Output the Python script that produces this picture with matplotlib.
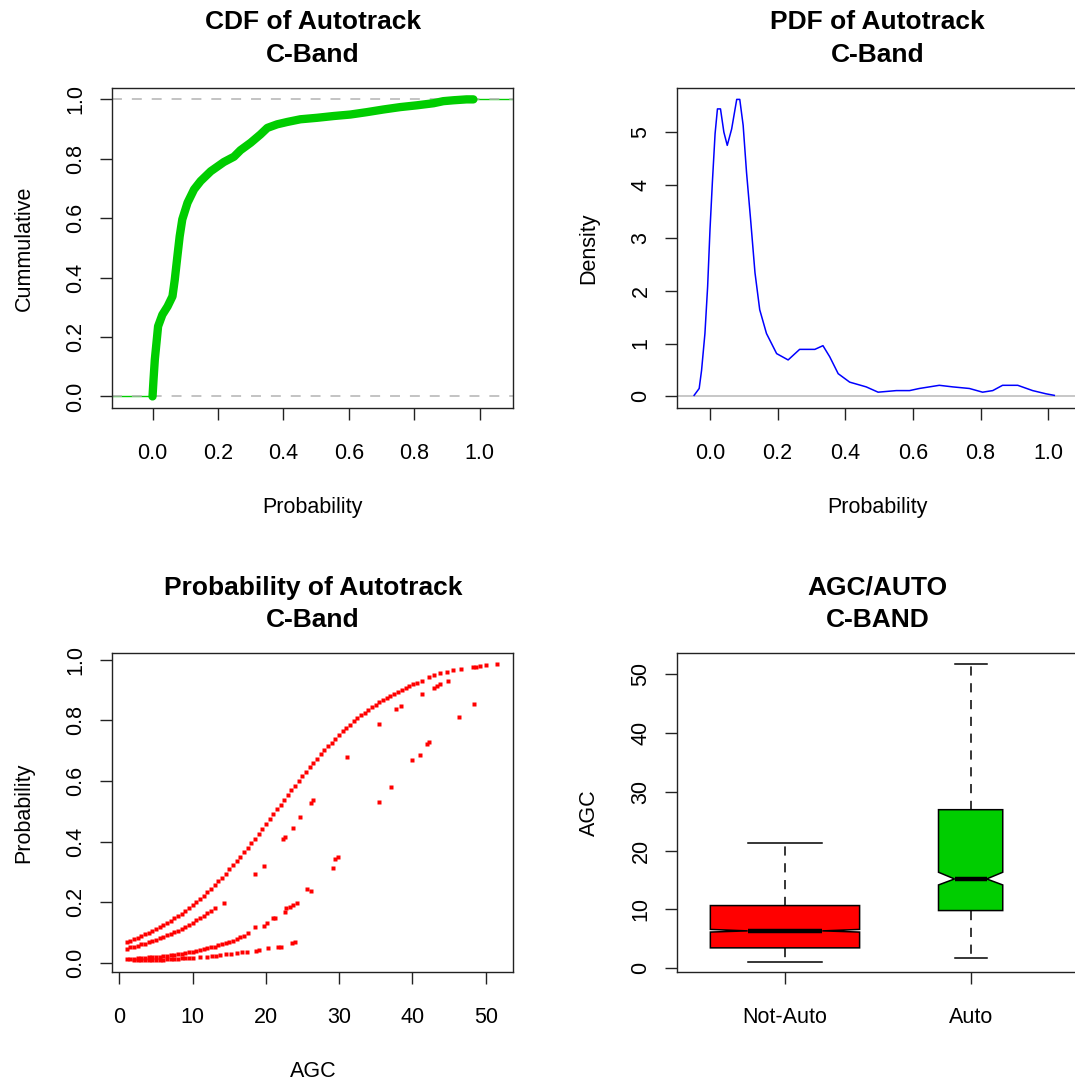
import matplotlib
matplotlib.use("Agg")
import matplotlib.pyplot as plt
from matplotlib.transforms import offset_copy

plt.rcParams['font.family'] = ['Liberation Sans', 'DejaVu Sans']

# ---- data ----
# empirical CDF of autotrack probability
cdf_x = [0.0, 0.003, 0.007, 0.013, 0.017, 0.030, 0.046, 0.061, 0.068, 0.076, 0.083,
         0.091, 0.107, 0.127, 0.147, 0.178, 0.218, 0.249, 0.269, 0.300, 0.330, 0.351,
         0.381, 0.412, 0.452, 0.503, 0.554, 0.605, 0.655, 0.706, 0.757, 0.808, 0.859,
         0.889, 0.920, 0.960, 0.981]
cdf_y = [0.0, 0.056, 0.124, 0.191, 0.236, 0.275, 0.303, 0.337, 0.393, 0.472, 0.539,
         0.596, 0.652, 0.697, 0.725, 0.758, 0.789, 0.807, 0.829, 0.854, 0.882, 0.904,
         0.916, 0.924, 0.933, 0.938, 0.944, 0.949, 0.957, 0.966, 0.974, 0.980, 0.987,
         0.994, 0.997, 1.0, 1.0]

# density estimate
pdf_x = [-0.047, -0.032, -0.025, -0.015, -0.007, 0.0, 0.007, 0.015, 0.022, 0.031,
         0.041, 0.051, 0.064, 0.079, 0.088, 0.098, 0.108, 0.120, 0.133, 0.147,
         0.167, 0.197, 0.231, 0.265, 0.310, 0.334, 0.354, 0.379, 0.413, 0.462,
         0.497, 0.551, 0.590, 0.619, 0.678, 0.718, 0.767, 0.806, 0.836, 0.865,
         0.910, 0.954, 0.993, 1.018]
pdf_y = [0.02, 0.15, 0.49, 1.19, 2.08, 3.16, 4.05, 4.97, 5.44, 5.44,
         5.0, 4.75, 5.06, 5.62, 5.62, 5.13, 4.24, 3.35, 2.34, 1.64,
         1.19, 0.81, 0.69, 0.89, 0.89, 0.96, 0.75, 0.43, 0.27, 0.18,
         0.08, 0.11, 0.11, 0.15, 0.21, 0.18, 0.15, 0.08, 0.11, 0.21,
         0.21, 0.11, 0.05, 0.02]

# fitted probability vs AGC (four bands of points)
agc_a = [1.0, 1.5, 2.0, 2.5, 3.0, 3.5, 4.0, 4.5, 5.0, 5.5,
         6.0, 6.5, 7.0, 7.5, 8.0, 8.5, 9.0, 9.5, 10.0, 10.5,
         11.0, 11.5, 12.0, 12.5, 13.0, 13.5, 14.0, 14.5, 15.0, 15.5,
         16.0, 16.5, 17.0, 17.5, 18.0, 18.5, 19.0, 19.5, 20.0, 20.5,
         21.0, 21.5, 22.0, 22.5, 23.0, 23.5, 24.0, 24.5, 25.0, 25.5,
         26.0, 26.5, 27.0, 27.5, 28.0, 28.5, 29.0, 29.5, 30.0, 30.5,
         31.0, 31.5, 32.0, 32.5, 33.0, 33.5, 34.0, 34.5, 35.0, 35.5,
         36.0, 36.5, 37.0, 37.5, 38.0,
         38.6, 39.1, 39.6, 40.1, 40.6, 41.3, 42.2, 43.0, 43.8, 44.7,
         45.6, 46.7, 48.3, 48.7, 49.2, 50.1, 51.5]
prob_a = [0.069, 0.073, 0.078, 0.082, 0.087, 0.093, 0.098, 0.104, 0.110, 0.117,
          0.123, 0.130, 0.138, 0.146, 0.154, 0.162, 0.171, 0.180, 0.190, 0.200,
          0.210, 0.221, 0.233, 0.244, 0.256, 0.269, 0.281, 0.294, 0.308, 0.322,
          0.336, 0.350, 0.365, 0.380, 0.395, 0.410, 0.426, 0.442, 0.458, 0.474,
          0.490, 0.506, 0.521, 0.537, 0.553, 0.569, 0.585, 0.600, 0.615, 0.630,
          0.645, 0.660, 0.674, 0.688, 0.701, 0.715, 0.727, 0.740, 0.752, 0.764,
          0.775, 0.786, 0.797, 0.807, 0.817, 0.826, 0.835, 0.844, 0.852, 0.860,
          0.867, 0.875, 0.881, 0.888, 0.894,
          0.902, 0.908, 0.913, 0.920, 0.925, 0.932, 0.945, 0.950, 0.956, 0.961,
          0.966, 0.969, 0.978, 0.978, 0.979, 0.982, 0.987]

agc_b = [1.0, 1.5, 2.0, 2.5, 3.0, 3.5, 4.0, 4.5, 5.0, 5.5,
         6.0, 6.5, 7.0, 7.5, 8.0, 8.5, 9.0, 9.5, 10.0, 10.5,
         11.0, 11.5, 12.0, 12.5, 13.0,
         14.3, 18.5, 19.7, 22.4, 22.6, 23.7, 24.7, 26.1, 26.5, 31.1,
         35.5, 37.8, 38.4, 41.3, 42.9, 43.3, 43.8, 44.9]
prob_b = [0.045, 0.050, 0.053, 0.056, 0.060, 0.063, 0.067, 0.071, 0.076, 0.080,
          0.085, 0.090, 0.095, 0.100, 0.106, 0.112, 0.119, 0.125, 0.132, 0.140,
          0.147, 0.155, 0.164, 0.172, 0.182,
          0.196, 0.292, 0.319, 0.409, 0.415, 0.444, 0.480, 0.526, 0.536, 0.680,
          0.787, 0.837, 0.848, 0.888, 0.909, 0.915, 0.921, 0.932]

agc_c = [1.0, 1.5, 2.0, 2.5, 3.0, 3.5, 4.0, 4.5, 5.0, 5.5,
         6.0, 6.5, 7.0, 7.5, 8.0, 8.5, 9.0, 9.5, 10.0, 10.5,
         11.0, 11.5, 12.0, 12.5, 13.0, 13.5, 14.0, 14.5, 15.0, 15.5,
         16.0, 16.5, 17.0,
         17.6, 18.5, 19.7, 20.1, 21.0, 21.3, 22.6, 22.8, 23.3, 23.7,
         24.2, 25.6, 26.1, 29.1, 29.5, 29.8, 35.5, 37.1, 40.0, 41.0,
         42.0, 42.2, 46.3, 48.4]
prob_c = [0.011, 0.012, 0.013, 0.014, 0.015, 0.016, 0.017, 0.018, 0.019, 0.020,
          0.022, 0.023, 0.025, 0.026, 0.028, 0.030, 0.032, 0.034, 0.036, 0.039,
          0.041, 0.044, 0.047, 0.050, 0.053, 0.057, 0.061, 0.065, 0.069, 0.073,
          0.078, 0.083, 0.088,
          0.097, 0.117, 0.122, 0.132, 0.146, 0.149, 0.168, 0.180, 0.185, 0.190,
          0.196, 0.242, 0.237, 0.314, 0.342, 0.348, 0.530, 0.581, 0.670, 0.686,
          0.722, 0.728, 0.810, 0.855]

agc_d = [2.0, 2.5, 3.0, 3.5, 4.0, 4.5, 5.0, 5.5, 6.0, 6.5,
         7.0, 7.5, 8.0, 8.5, 9.0, 9.5, 10.0,
         11.0, 12.0, 12.6, 13.2, 13.7, 14.5, 15.3, 16.0, 16.8, 17.4,
         18.7, 19.0, 20.3, 21.6, 22.0, 23.6, 24.0]
prob_d = [0.007, 0.007, 0.008, 0.008, 0.008, 0.009, 0.009, 0.010, 0.010, 0.011,
          0.012, 0.012, 0.013, 0.014, 0.014, 0.015, 0.016,
          0.018, 0.020, 0.021, 0.023, 0.025, 0.027, 0.029, 0.031, 0.034, 0.036,
          0.040, 0.042, 0.047, 0.052, 0.053, 0.066, 0.069]

# AGC box plot summary
box_names = ['Not-Auto', 'Auto']
box_low = [1.13, 1.70]
box_q1 = [3.46, 9.81]
box_med = [6.35, 15.19]
box_q3 = [10.66, 26.98]
box_high = [21.3, 51.7]
box_cilo = [6.15, 14.17]
box_cihi = [6.60, 16.33]
box_colors = ['#FF0000', '#00CD00']

# ---- figure ----
W, H = 1075, 1082
fig = plt.figure(figsize=(W / 100, H / 100), dpi=100)
FS = 15.5
green = '#00CD00'


def panel(x0, y0, x1, y1):
    ax = fig.add_axes([x0 / W, 1 - y1 / H, (x1 - x0) / W, (y1 - y0) / H])
    for s in ax.spines.values():
        s.set_linewidth(1.0)
        s.set_color('#222222')
    ax.tick_params(direction='out', length=8.9, width=1.0, labelsize=FS, color='#222222')
    ax.tick_params(axis='x', pad=16.3)
    ax.tick_params(axis='y', pad=9.7)
    return ax


def rot_yticks(ax):
    for t in ax.get_yticklabels():
        t.set_rotation(90)
        t.set_va('center')


def titles(ax, l1, l2):
    for txt, dy in ((l1, 58.5), (l2, 26)):
        ax.text(0.5, 1, txt, transform=offset_copy(ax.transAxes, fig, y=dy, units='dots'),
                ha='center', va='baseline', fontsize=19, fontweight='bold')


def labels(ax, xl=None, yl=None):
    if xl:
        ax.text(0.5, 0, xl, transform=offset_copy(ax.transAxes, fig, y=-105, units='dots'),
                ha='center', va='baseline', fontsize=FS)
    if yl:
        ax.text(0, 0.5, yl, transform=offset_copy(ax.transAxes, fig, x=-82.7, units='dots'),
                rotation=90, rotation_mode='anchor', ha='center', va='baseline', fontsize=FS)


# CDF
ax1 = panel(112.3, 87.5, 513.3, 408.3)
xl1 = (-0.123, 1.103)
ax1.plot([xl1[0], cdf_x[0]], [0, 0], color=green, lw=1.0, zorder=1)
ax1.plot([cdf_x[-1], xl1[1]], [1, 1], color=green, lw=1.0, zorder=1)
for h in (0, 1):
    ax1.axhline(h, color='#B3B3B3', lw=1.1, ls=(0, (6.5, 6.5)), zorder=2)
ax1.plot(cdf_x, cdf_y, color=green, lw=6.0, solid_capstyle='round',
         solid_joinstyle='round', zorder=3)
ax1.set_xlim(*xl1)
ax1.set_ylim(-0.04, 1.04)
ax1.set_xticks([0, 0.2, 0.4, 0.6, 0.8, 1.0], ['0.0', '0.2', '0.4', '0.6', '0.8', '1.0'])
ax1.set_yticks([0, 0.2, 0.4, 0.6, 0.8, 1.0], ['0.0', '0.2', '0.4', '0.6', '0.8', '1.0'])
rot_yticks(ax1)
titles(ax1, 'CDF of Autotrack', 'C-Band')
labels(ax1, 'Probability', 'Cummulative')

# PDF
ax2 = panel(677.3, 87.5, 1078.3, 408.3)
ax2.axhline(0, color='#BEBEBE', lw=1.2, zorder=1)
ax2.plot(pdf_x, pdf_y, color='#0000FF', lw=1.1, zorder=2)
ax2.set_xlim(-0.0967, 1.089)
ax2.set_ylim(-0.225, 5.845)
ax2.set_xticks([0, 0.2, 0.4, 0.6, 0.8, 1.0], ['0.0', '0.2', '0.4', '0.6', '0.8', '1.0'])
ax2.set_yticks([0, 1, 2, 3, 4, 5], ['0', '1', '2', '3', '4', '5'])
rot_yticks(ax2)
titles(ax2, 'PDF of Autotrack', 'C-Band')
labels(ax2, 'Probability', 'Density')

# probability vs AGC
ax3 = panel(112.3, 653.3, 513.3, 972.3)
for xs, ys in ((agc_a, prob_a), (agc_b, prob_b), (agc_c, prob_c), (agc_d, prob_d)):
    ax3.plot(xs, ys, 's', ms=2.7, color='#FF0000', mec='none')
ax3.set_xlim(-0.955, 53.77)
ax3.set_ylim(-0.032, 1.022)
ax3.set_xticks([0, 10, 20, 30, 40, 50], ['0', '10', '20', '30', '40', '50'])
ax3.set_yticks([0, 0.2, 0.4, 0.6, 0.8, 1.0], ['0.0', '0.2', '0.4', '0.6', '0.8', '1.0'])
rot_yticks(ax3)
titles(ax3, 'Probability of Autotrack', 'C-Band')
labels(ax3, 'AGC', 'Probability')

# box plot
ax4 = panel(677.3, 653.3, 1078.3, 972.3)
stats = []
for i in range(len(box_names)):
    stats.append(dict(label=box_names[i], whislo=box_low[i], q1=box_q1[i], med=box_med[i],
                      q3=box_q3[i], whishi=box_high[i], cilo=box_cilo[i],
                      cihi=box_cihi[i], fliers=[]))
widths = [0.804, 0.346]
bp = ax4.bxp(stats, positions=[1, 2], widths=widths, capwidths=[w / 2 for w in widths],
             shownotches=True, patch_artist=True, showfliers=False,
             boxprops=dict(edgecolor='black', linewidth=1.1),
             whiskerprops=dict(color='black', linewidth=1.1, linestyle=(0, (6, 5))),
             capprops=dict(color='black', linewidth=1.1),
             medianprops=dict(color='black', linewidth=3.2, solid_capstyle='butt'))
for patch, c in zip(bp['boxes'], box_colors):
    patch.set_facecolor(c)
ax4.set_xlim(0.42, 2.58)
ax4.set_ylim(-0.7, 53.6)
ax4.set_xticks([1, 2], box_names)
ax4.set_yticks([0, 10, 20, 30, 40, 50], ['0', '10', '20', '30', '40', '50'])
rot_yticks(ax4)
titles(ax4, 'AGC/AUTO', 'C-BAND')
labels(ax4, None, 'AGC')

fig.savefig('out.png', dpi=100)
